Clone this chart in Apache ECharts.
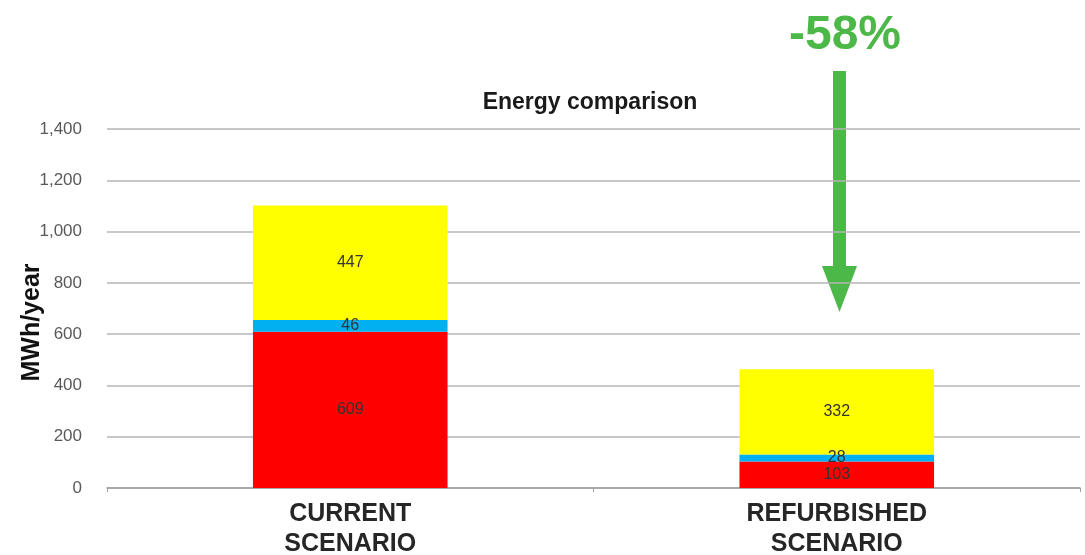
<!DOCTYPE html>
<html>
<head>
<meta charset="utf-8">
<script src="https://cdn.jsdelivr.net/npm/echarts@6/dist/echarts.min.js"></script>
<style>
  html, body { margin: 0; padding: 0; background: #fff; }
  #chart { width: 1085px; height: 555px; }
</style>
</head>
<body>
<div id="chart"></div>
<script>
// data
const scenarios = ['CURRENT\nSCENARIO', 'REFURBISHED\nSCENARIO']
const redValues = [609, 103]
const blueValues = [46, 28]
const yellowValues = [447, 332]
const yTicks = [0, 200, 400, 600, 800, 1000, 1200, 1400]
const reductionText = '-58%'

const font = 'Liberation Sans, Arial, sans-serif'
const green = '#4cb848'

function segment(name, values, color) {
  return {
    name: name,
    type: 'bar',
    stack: 'total',
    barWidth: '40%',
    data: values,
    itemStyle: { color: color },
    label: {
      show: true,
      position: 'inside',
      color: '#333',
      fontSize: 16,
      fontFamily: font
    }
  }
}

const chart = echarts.init(document.getElementById('chart'))
chart.setOption({
  animation: false,
  title: {
    text: 'Energy comparison',
    left: 585,
    top: 86,
    textAlign: 'center',
    textStyle: { fontSize: 23, fontWeight: 'bold', color: '#1a1a1a', fontFamily: font }
  },
  grid: { left: 107, right: 5, top: 129, bottom: 67, outerBoundsMode: 'none' },
  xAxis: {
    type: 'category',
    data: scenarios,
    axisLine: { lineStyle: { color: '#a0a0a0', width: 1.5 } },
    axisTick: { show: true, length: 4, lineStyle: { color: '#a0a0a0' } },
    axisLabel: {
      margin: 11,
      fontSize: 25,
      lineHeight: 30,
      fontWeight: 'bold',
      color: '#262626',
      fontFamily: font
    }
  },
  yAxis: {
    type: 'value',
    min: 0,
    max: yTicks[yTicks.length - 1],
    interval: 200,
    name: 'MWh/year',
    nameLocation: 'middle',
    nameGap: 62,
    nameMoveOverlap: false,
    nameTextStyle: {
      fontSize: 25,
      fontWeight: 'bold',
      color: '#111',
      fontFamily: font,
      padding: [0, 28, 0, 0]
    },
    axisLine: { show: false },
    axisTick: { show: false },
    axisLabel: {
      margin: 25,
      fontSize: 17,
      color: '#595959',
      fontFamily: font,
      formatter: v => v.toLocaleString('en-US')
    },
    splitLine: { lineStyle: { color: '#b5b5b5', width: 1.5 } }
  },
  series: [
    segment('red', redValues, '#ff0000'),
    segment('blue', blueValues, '#00b0f0'),
    segment('yellow', yellowValues, '#ffff00')
  ],
  graphic: [
    {
      type: 'text',
      x: 845,
      y: 36,
      style: {
        text: reductionText,
        fill: green,
        font: 'bold 48px ' + font,
        textAlign: 'center',
        textVerticalAlign: 'middle'
      }
    },
    {
      type: 'rect',
      shape: { x: 833, y: 71, width: 13, height: 200 },
      style: { fill: green }
    },
    {
      type: 'polygon',
      shape: { points: [[822, 266], [857, 266], [839.5, 312]] },
      style: { fill: green }
    }
  ]
})
</script>
</body>
</html>
